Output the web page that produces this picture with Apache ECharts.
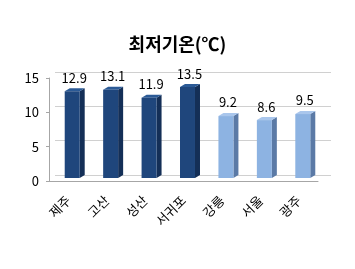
<!DOCTYPE html>
<html><head><meta charset="utf-8">
<script src="https://cdn.jsdelivr.net/npm/echarts@6/dist/echarts.min.js"></script>
<style>html,body{margin:0;padding:0;background:#fff}#c{width:355px;height:269px}</style>
</head><body><div id="c"></div>
<script>
const categories = ['제주','고산','성산','서귀포','강릉','서울','광주'];
const values = [12.9, 13.1, 11.9, 13.5, 9.2, 8.6, 9.5];
const groups = [0, 0, 0, 0, 1, 1, 1];
const yTicks = [0, 5, 10, 15];
const titleText = '최저기온(℃)';

const palette = [
  {front:'#1f467c', side:'#142f57', top:'#2b5a96'},
  {front:'#8db3e2', side:'#5b7aa6', top:'#a9c6ec'}
];
const FONT = '"Noto Sans CJK KR", "Noto Sans", sans-serif';
const chart = echarts.init(document.getElementById('c'));
const yMax = yTicks[yTicks.length-1];
chart.setOption({
  animation:false,
  title:{text:titleText,left:'center',top:30,textStyle:{fontFamily:FONT,fontSize:18,fontWeight:'bold',color:'#000'}},
  grid:[
    {left:55,right:24,top:72,bottom:94},
    {left:49,right:37,top:78,bottom:88},
    {left:53,right:33,top:77,bottom:91}
  ],
  xAxis:[
    {gridIndex:0,type:'category',data:categories,show:false},
    {gridIndex:1,type:'category',data:categories,
      axisLine:{lineStyle:{color:'#a6a6a6'}},
      axisTick:{length:5,lineStyle:{color:'#a6a6a6'}},
      axisLabel:{rotate:45,margin:17,fontFamily:FONT,fontSize:13,color:'#000'}},
    {gridIndex:2,type:'category',data:categories,show:false}
  ],
  yAxis:[
    {gridIndex:0,type:'value',min:0,max:yMax,interval:5,
      axisLine:{show:false},axisTick:{show:false},axisLabel:{show:false},
      splitLine:{lineStyle:{color:'#d0d0d0'}}},
    {gridIndex:1,type:'value',min:0,max:yMax,interval:5,
      axisLine:{show:true,lineStyle:{color:'#a6a6a6'}},
      axisTick:{show:true,length:3,lineStyle:{color:'#a6a6a6'}},
      axisLabel:{fontFamily:FONT,fontSize:13,color:'#000',margin:10},
      splitLine:{show:false}},
    {gridIndex:2,type:'value',min:0,max:yMax,interval:5,show:false,splitLine:{show:false}}
  ],
  series:[{
    type:'custom',xAxisIndex:2,yAxisIndex:2,
    data:values.map((v,i)=>[i,v,groups[i]]),
    renderItem:function(params,api){
      const t = api.coord([api.value(0), api.value(1)]);
      const b = api.coord([api.value(0), 0]);
      const band = api.size([1,0])[0];
      const w = band*0.39, dx = 5, dy = 3;
      const x0 = t[0]-w/2;
      const c = palette[api.value(2)];
      return {type:'group',children:[
        {type:'polygon',shape:{points:[[x0+w,t[1]],[x0+w+dx,t[1]-dy],[x0+w+dx,b[1]-dy],[x0+w,b[1]]]},style:{fill:c.side}},
        {type:'polygon',shape:{points:[[x0,t[1]],[x0+dx,t[1]-dy],[x0+w+dx,t[1]-dy],[x0+w,t[1]]]},style:{fill:c.top}},
        {type:'rect',shape:{x:x0,y:t[1],width:w,height:b[1]-t[1]},style:{fill:c.front}},
        {type:'text',style:{text:String(api.value(1)),x:t[0]+2,y:t[1]-dy-4,align:'center',verticalAlign:'bottom',fontFamily:FONT,fontSize:13,fill:'#000'}}
      ]};
    }
  }]
});
</script></body></html>
